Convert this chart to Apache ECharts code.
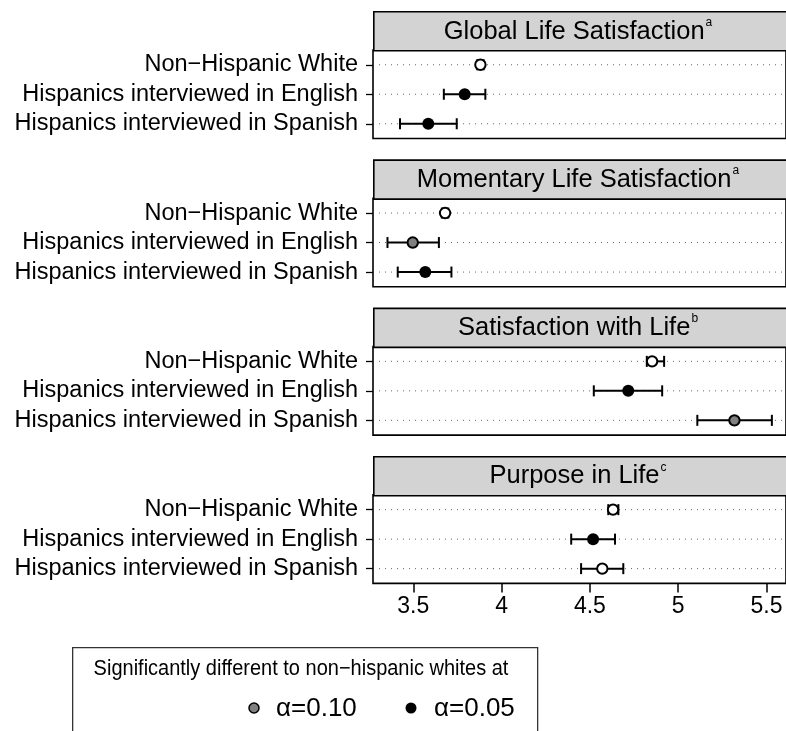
<!DOCTYPE html>
<html>
<head>
<meta charset="utf-8">
<script src="https://cdn.jsdelivr.net/npm/echarts@6/dist/echarts.min.js"></script>
<style>
  html, body { margin: 0; padding: 0; background: #fff; }
  #chart { width: 786px; height: 731px; }
</style>
</head>
<body>
<div id="chart"></div>
<script>
// Groups shown on every panel, top to bottom
const groups = ['Non\u2212Hispanic White', 'Hispanics interviewed in English', 'Hispanics interviewed in Spanish'];

// Panel titles and their footnote letters
const panelTitles = ['Global Life Satisfaction', 'Momentary Life Satisfaction', 'Satisfaction with Life', 'Purpose in Life'];
const panelNotes = ['a', 'a', 'b', 'c'];

// Means and confidence limits per panel (rows follow `groups`)
const globalMean  = [3.880, 3.791, 3.585];
const globalLow   = [3.862, 3.673, 3.425];
const globalHigh  = [3.898, 3.908, 3.746];

const momentMean  = [3.680, 3.497, 3.568];
const momentLow   = [3.662, 3.354, 3.412];
const momentHigh  = [3.698, 3.645, 3.716];

const swlMean     = [4.852, 4.717, 5.318];
const swlLow      = [4.822, 4.522, 5.108];
const swlHigh     = [4.920, 4.909, 5.530];

const purposeMean = [4.631, 4.518, 4.570];
const purposeLow  = [4.604, 4.394, 4.450];
const purposeHigh = [4.661, 4.642, 4.689];

// Significance of the difference to non-hispanic whites: '', '0.10' or '0.05'
const globalSig  = ['', '0.05', '0.05'];
const momentSig  = ['', '0.10', '0.05'];
const swlSig     = ['', '0.05', '0.10'];
const purposeSig = ['', '0.05', ''];

// Tick labels of the shared x axis
const xTicks = [3.5, 4, 4.5, 5, 5.5];

const panels = [
  { mean: globalMean,  low: globalLow,  high: globalHigh,  sig: globalSig },
  { mean: momentMean,  low: momentLow,  high: momentHigh,  sig: momentSig },
  { mean: swlMean,     low: swlLow,     high: swlHigh,     sig: swlSig },
  { mean: purposeMean, low: purposeLow, high: purposeHigh, sig: purposeSig }
];

// Layout
const FONT = '"Liberation Sans", Arial, Helvetica, sans-serif';
const X_MIN = 3.272, X_MAX = 5.61;
const PLOT_LEFT = 373, PLOT_WIDTH = 415;
const FIRST_TOP = 11, PANEL_STEP = 148.3, STRIP_H = 39, PLOT_H = 88.5;
const sigFill = { '': '#ffffff', '0.10': '#808080', '0.05': '#000000' };

const grids = [], xAxes = [], yAxes = [], series = [], graphics = [];

panels.forEach((p, i) => {
  const stripTop = FIRST_TOP + i * PANEL_STEP;
  const plotTop = stripTop + STRIP_H;
  const isLast = i === panels.length - 1;

  grids.push({
    left: PLOT_LEFT, top: plotTop, width: PLOT_WIDTH, height: PLOT_H,
    show: true, borderColor: '#000', borderWidth: 1.6, backgroundColor: '#fff'
  });

  xAxes.push({
    type: 'value', gridIndex: i, min: X_MIN, max: X_MAX,
    splitLine: { show: false },
    axisLine: { show: false },
    axisTick: { show: isLast, length: 9, lineStyle: { color: '#000', width: 1.5 }, customValues: xTicks },
    axisLabel: {
      show: isLast, margin: 12, color: '#000', fontFamily: FONT, fontSize: 23,
      customValues: xTicks, formatter: v => String(v)
    }
  });

  yAxes.push({
    type: 'category', gridIndex: i, data: groups, inverse: true,
    axisLine: { show: false },
    axisTick: { show: true, interval: 0, alignWithLabel: true, length: 7, lineStyle: { color: '#000', width: 1.3 } },
    axisLabel: { interval: 0, hideOverlap: false, color: '#000', fontFamily: FONT, fontSize: 23.5, margin: 15 },
    splitLine: { show: false }
  });

  const rows = p.mean.map((m, r) => [m, r, p.low[r], p.high[r], p.sig[r]]);

  series.push({
    type: 'custom', xAxisIndex: i, yAxisIndex: i, data: rows,
    encode: { x: 0, y: 1 }, clip: false,
    renderItem: (params, api) => {
      const r = api.value(1);
      const c = api.coord([api.value(0), r]);
      const lo = api.coord([api.value(2), r])[0];
      const hi = api.coord([api.value(3), r])[0];
      const gl = api.coord([X_MIN, r])[0];
      const gr = api.coord([X_MAX, r])[0];
      const sig = rows[params.dataIndex][4];
      const y = c[1];
      const cap = 5.5;
      const bar = { stroke: '#000', lineWidth: 2 };
      return {
        type: 'group',
        children: [
          { type: 'line', shape: { x1: gl + 6, y1: y, x2: gr, y2: y },
            style: { stroke: '#666', lineWidth: 1, lineDash: [1, 5] } },
          { type: 'line', shape: { x1: lo, y1: y, x2: hi, y2: y }, style: bar },
          { type: 'line', shape: { x1: lo, y1: y - cap, x2: lo, y2: y + cap }, style: bar },
          { type: 'line', shape: { x1: hi, y1: y - cap, x2: hi, y2: y + cap }, style: bar },
          { type: 'circle', shape: { cx: c[0], cy: y, r: sig === '0.05' ? 6 : 5.2 },
            style: { fill: sigFill[sig], stroke: '#000', lineWidth: sig === '0.05' ? 0 : 2 } }
        ]
      };
    }
  });

  // Header strip with title
  graphics.push({
    type: 'rect', left: PLOT_LEFT, top: stripTop,
    shape: { width: PLOT_WIDTH, height: STRIP_H },
    style: { fill: '#d3d3d3', stroke: '#000', lineWidth: 1.6 }, z: 10
  });
  graphics.push({
    type: 'text', x: 578, y: stripTop + STRIP_H / 2 + 1, z: 11,
    style: {
      text: '{t|' + panelTitles[i] + '}{s|' + panelNotes[i] + '}',
      align: 'center', verticalAlign: 'middle',
      rich: {
        t: { fontFamily: FONT, fontSize: 25.5, fill: '#000', lineHeight: 30 },
        s: { fontFamily: FONT, fontSize: 12, fill: '#000', verticalAlign: 'top', lineHeight: 30, padding: [0, 0, 13, 1] }
      }
    }
  });
});

// Significance key
const keyTop = 647;
graphics.push(
  { type: 'rect', left: 72, top: keyTop, shape: { width: 465, height: 120 },
    style: { fill: '#fff', stroke: '#333', lineWidth: 1.3 } },
  { type: 'text', x: 301, y: 669, scaleX: 0.93, originX: 0, originY: 0, style: {
      text: 'Significantly different to non\u2212hispanic whites at', align: 'center', verticalAlign: 'middle',
      fontFamily: FONT, fontSize: 21.5, fill: '#000' } },
  { type: 'circle', shape: { cx: 254, cy: 708, r: 5 }, style: { fill: '#808080', stroke: '#000', lineWidth: 1.5 } },
  { type: 'text', x: 276, y: 709, style: {
      text: '\u03b1=0.10', align: 'left', verticalAlign: 'middle', fontFamily: FONT, fontSize: 26, fill: '#000' } },
  { type: 'circle', shape: { cx: 411, cy: 708, r: 5.5 }, style: { fill: '#000' } },
  { type: 'text', x: 434, y: 709, style: {
      text: '\u03b1=0.05', align: 'left', verticalAlign: 'middle', fontFamily: FONT, fontSize: 26, fill: '#000' } }
);

const chart = echarts.init(document.getElementById('chart'), null, { renderer: 'canvas' });
chart.setOption({
  animation: false,
  backgroundColor: '#fff',
  grid: grids,
  xAxis: xAxes,
  yAxis: yAxes,
  series: series,
  graphic: graphics
});
</script>
</body>
</html>
